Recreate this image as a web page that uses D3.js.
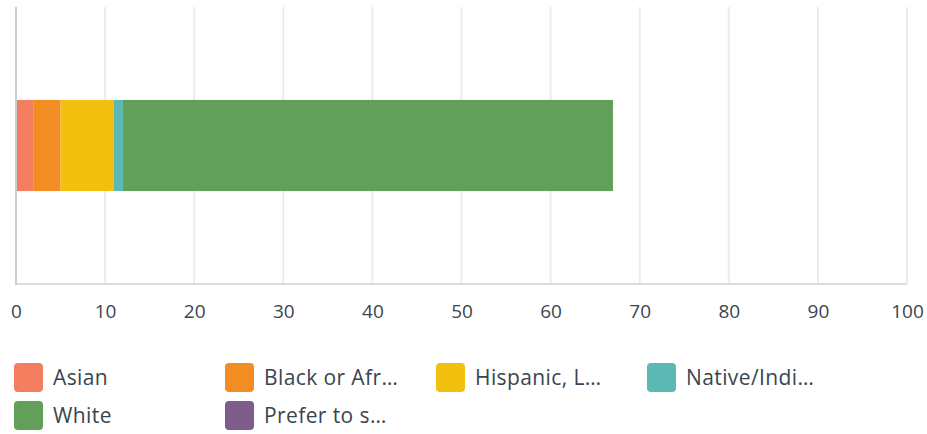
<!DOCTYPE html>
<html>
<head>
<meta charset="utf-8">
<script src="https://cdn.jsdelivr.net/npm/d3@7"></script>
<style>
  body { margin: 0; background: #fff; }
  svg { display: block; font-family: "Open Sans", Roboto, sans-serif; }
</style>
</head>
<body>
<div id="chart"></div>
<script>
// series (respondent counts), one stacked bar
const categories = ["Q"];
const seriesNames = ["Asian", "Black or African American", "Hispanic, Latino", "Native/Indigenous", "White", "Prefer to say"];
const legendLabels = ["Asian", "Black or Afr…", "Hispanic, L…", "Native/Indi…", "White", "Prefer to s…"];
const seriesValues = [2, 3, 6, 1, 55, 0];
const seriesColors = ["#f47f60", "#f18d22", "#f2c10f", "#5bb8b2", "#629f5a", "#7d5c8e"];
const xTicks = [0, 10, 20, 30, 40, 50, 60, 70, 80, 90, 100];

var width = 927;
var height = 434;
const TEXT_COLOR = '#3a4550';

const svg = d3.select('#chart')
  .append("svg")
  .attr("width", width)
  .attr("height", height);

var x = d3.scaleLinear()
  .domain([0, 100])
  .range([16, 907]);

var y = d3.scaleBand()
  .domain(categories)
  .range([7, 284])
  .padding(0.505);

// gridlines
svg.append("g")
  .selectAll("line")
  .data(xTicks.slice(1))
  .join("line")
  .attr("x1", d => x(d)).attr("x2", d => x(d))
  .attr("y1", 7).attr("y2", 284)
  .attr("stroke", "#ececec")
  .attr("stroke-width", 2);

// stack the series
var row = {};
seriesNames.forEach((n, i) => row[n] = seriesValues[i]);
var stacked = d3.stack().keys(seriesNames)([row]);

svg.append("g")
  .selectAll("rect")
  .data(stacked)
  .join("rect")
  .attr("x", d => x(d[0][0]))
  .attr("width", d => x(d[0][1]) - x(d[0][0]))
  .attr("y", y(categories[0]))
  .attr("height", y.bandwidth())
  .attr("fill", (d, i) => seriesColors[i]);

// axes lines
svg.append("line")
  .attr("x1", 16).attr("x2", 907)
  .attr("y1", 284).attr("y2", 284)
  .attr("stroke", "#dcdcdc")
  .attr("stroke-width", 2);
svg.append("line")
  .attr("x1", 16).attr("x2", 16)
  .attr("y1", 7).attr("y2", 285)
  .attr("stroke", "#cccccc")
  .attr("stroke-width", 2);

// x axis labels
const xAxis = svg.append("g")
  .attr("transform", "translate(0,284)")
  .call(d3.axisBottom(x).tickValues(xTicks).tickSize(0).tickPadding(21));
xAxis.select(".domain").remove();
xAxis.selectAll("text")
  .attr("dy", "0.71em")
  .style("font-size", "19px")
  .style("font-family", "'Open Sans', Roboto, sans-serif")
  .attr("fill", TEXT_COLOR);

// legend
const legend = svg.append("g")
  .selectAll("g")
  .data(legendLabels)
  .join("g")
  .attr("transform", (d, i) => `translate(${14 + (i % 4) * 211},${363 + Math.floor(i / 4) * 38})`);

legend.append("rect")
  .attr("width", 29)
  .attr("height", 29)
  .attr("rx", 4)
  .attr("fill", (d, i) => seriesColors[i]);

legend.append("text")
  .attr("x", 39)
  .attr("y", 15)
  .attr("dy", "0.35em")
  .style("font-size", "21px")
  .style("letter-spacing", "0.4px")
  .attr("fill", TEXT_COLOR)
  .text(d => d);
</script>
</body>
</html>
